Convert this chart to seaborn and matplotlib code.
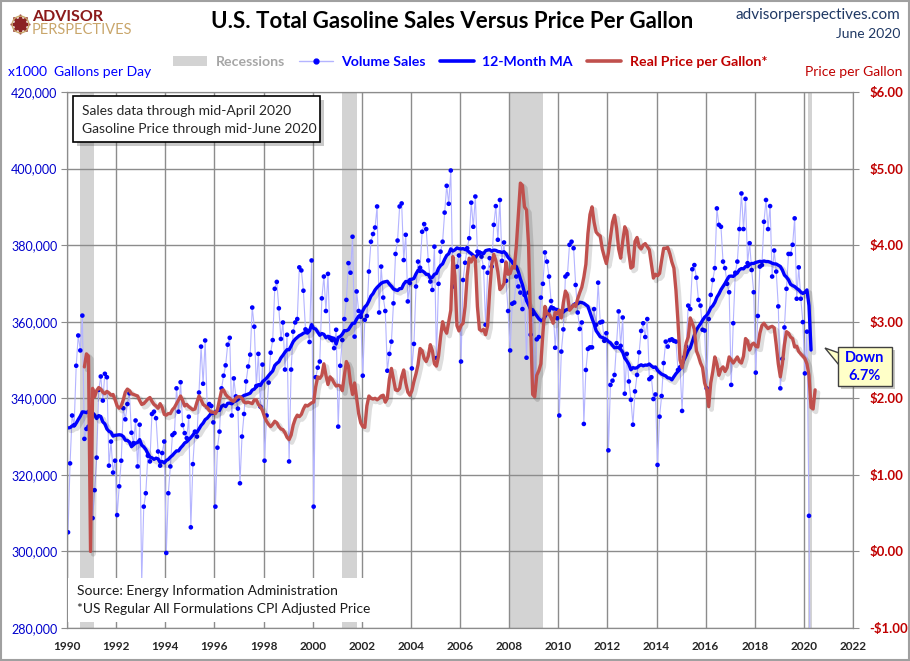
import numpy as np
import pandas as pd
import seaborn as sns
import matplotlib.pyplot as plt
import matplotlib.patheffects as pe
from matplotlib.patches import Rectangle, Polygon, Patch
from matplotlib.lines import Line2D
from matplotlib.ticker import FuncFormatter

# monthly volume sales, x1000 gallons per day, Jan 1989 .. Apr 2020
# (1989 only feeds the 12-month average, it is left of the x range)
VOLUME_START = 1989
volume_sales = [
    312, 322, 330, 333, 340, 345, 342, 348, 330, 334, 328, 330,
    305, 323, 335.5, 333, 348.5, 356.4, 352.5, 361.6, 329.4, 332, 332.6, 321.3,
    308.7, 316, 324.5, 342.2, 345.7, 339.4, 346.4, 345.5, 322.4, 328.7, 320.6, 323.7,
    309.5, 317, 323.7, 337.4, 334.5, 338.5, 341.3, 331, 328.3, 334.2, 322.2, 333.1,
    292, 311.7, 315.2, 325, 323.5, 335.9, 336.5, 334.8, 326.1, 322.4, 325.7, 328.7,
    299.6, 315.2, 322.2, 330.4, 330.9, 342.6, 336.5, 344.2, 333, 330.9, 329.6, 335.2,
    306.3, 322.8, 331.3, 330, 341.5, 353.5, 343.8, 355.1, 337.7, 338.5, 338, 333.7,
    311.7, 327.1, 331.3, 342.6, 345.9, 348.6, 354, 355.8, 335.5, 345.2, 340.5, 337.3,
    317.8, 330, 335.9, 344.4, 348.3, 351.4, 363.7, 358.7, 343.2, 351.6, 337.8, 348.8,
    323.7, 335.5, 344.1, 351.9, 355.2, 368.6, 370.4, 363.5, 355.5, 359.8, 347.5, 356.6,
    323.5, 347.5, 357.4, 359.8, 360.7, 374.2, 373.4, 368.1, 358, 357.6, 354.7, 376,
    311.7, 345.5, 348, 349.6, 366.1, 371.8, 362.8, 372.5, 355.7, 355.2, 353.1, 357.9,
    332.6, 348.5, 355.2, 360.7, 365.7, 375.3, 372.8, 382.2, 356.1, 367.9, 362.8, 361.3,
    345.9, 360.5, 361.5, 373.1, 380.9, 382.9, 384.6, 390.1, 362.4, 374.4, 366.3, 362.8,
    347.2, 351.6, 354.8, 364.8, 377.7, 381.2, 390.1, 390.9, 376.1, 382.7, 365.3, 370.1,
    347.8, 354.2, 369.2, 375.7, 374.1, 383.5, 385.5, 384.2, 376, 370.5, 368.3, 379.6,
    350.5, 369.9, 378.3, 380.9, 388.5, 395.5, 390.8, 399.5, 369.2, 374.2, 374.4, 377.3,
    349.6, 370.9, 375.4, 379.2, 381.8, 391.1, 384.8, 392.7, 378.3, 378.1, 377, 374.2,
    359.2, 372.8, 376.6, 374.4, 385.3, 390.2, 381.4, 391.8, 375.9, 380.7, 370.7, 362.8,
    352.5, 364.7, 365, 371.8, 369.2, 367.6, 363.3, 367, 350.6, 367.6, 356.6, 362,
    342.2, 355.4, 356, 366.3, 369.9, 378.1, 375.7, 371.8, 365.4, 363.5, 353.2, 360.9,
    335.5, 352.2, 358, 371.8, 372.4, 380.1, 380.9, 379.2, 369.6, 362.4, 358.1, 359.8,
    333.3, 347.4, 352.9, 353.3, 353.3, 363.3, 359.2, 370.2, 359.8, 360, 355, 357,
    326.4, 343.5, 344.6, 346.1, 354.4, 362.7, 353.7, 361.1, 341.2, 351.6, 344.4, 339.6,
    333.1, 341.8, 346.1, 352, 357.6, 359.6, 356, 360.7, 345, 345.5, 339.8, 341,
    322.6, 335.2, 340.6, 349.2, 354.8, 353.5, 355.2, 355.4, 355, 354.8, 347.4, 348.1,
    336.7, 350.7, 353.5, 364.2, 363.3, 373.7, 374.8, 371.5, 365.7, 364.2, 357.9, 357.7,
    342.6, 360.7, 367, 370.9, 374, 389.6, 385.3, 384.8, 375.7, 374, 369.9, 367.7,
    343.5, 359.6, 372.8, 375.7, 384.2, 393.5, 384.2, 392.1, 375.3, 380.5, 373.5, 367.7,
    346.7, 361.5, 374.4, 374.8, 386.1, 391.8, 384.2, 390.2, 371.8, 378.6, 373.1, 364,
    342.6, 350.3, 358.5, 368.6, 377.7, 377.7, 380.1, 387, 366, 374.2, 366, 359.9,
    346.5, 357.4, 309.3, 229.5,
]

# real (CPI adjusted) price per gallon, monthly, Sep 1990 .. Jun 2020
PRICE_START = 1990 + 8 / 12
real_price = [
    2.41, 2.58, 2.55, 0.00,
    2.13, 2.02, 2.10, 2.14, 2.12, 2.08, 2.06, 2.09, 2.07, 2.04, 2.05, 1.98,
    1.90, 1.87, 1.90, 1.98, 2.08, 2.12, 2.10, 2.06, 2.05, 2.04, 2.03, 1.97,
    1.92, 1.93, 1.96, 1.99, 2.01, 1.96, 1.92, 1.90, 1.87, 1.93, 1.88, 1.79,
    1.78, 1.80, 1.80, 1.85, 1.88, 1.93, 1.98, 2.03, 1.97, 1.90, 1.92, 1.89,
    1.87, 1.85, 1.86, 1.95, 2.03, 1.98, 1.92, 1.90, 1.88, 1.84, 1.82, 1.82,
    1.80, 1.85, 1.98, 2.10, 2.11, 2.05, 2.02, 2.00, 1.97, 1.96, 2.00, 2.02,
    2.02, 2.00, 1.95, 1.94, 1.95, 1.94, 1.93, 1.98, 1.98, 1.92, 1.89, 1.84,
    1.76, 1.70, 1.66, 1.63, 1.66, 1.70, 1.68, 1.63, 1.60, 1.59, 1.55, 1.49,
    1.46, 1.52, 1.65, 1.73, 1.78, 1.76, 1.79, 1.86, 1.91, 1.90, 1.92, 1.94,
    1.95, 2.15, 2.28, 2.26, 2.30, 2.45, 2.30, 2.18, 2.28, 2.25, 2.20, 2.16,
    2.17, 2.16, 2.10, 2.30, 2.48, 2.42, 2.20, 2.05, 2.20, 2.00, 1.80, 1.68,
    1.63, 1.62, 1.90, 2.03, 2.00, 1.99, 2.00, 1.98, 2.00, 2.03, 2.04, 1.95,
    2.00, 2.25, 2.39, 2.25, 2.11, 2.10, 2.13, 2.28, 2.37, 2.20, 2.08, 2.04,
    2.10, 2.22, 2.32, 2.44, 2.65, 2.62, 2.52, 2.48, 2.55, 2.70, 2.62, 2.45,
    2.42, 2.55, 2.80, 3.00, 2.90, 2.85, 3.00, 3.15, 3.85, 3.60, 2.95, 2.88,
    2.95, 2.98, 3.20, 3.60, 3.83, 3.78, 3.85, 3.80, 3.20, 2.90, 2.88, 2.90,
    2.83, 2.95, 3.40, 3.75, 3.88, 3.80, 3.65, 3.42, 3.45, 3.50, 3.78, 3.62,
    3.63, 3.72, 3.70, 3.98, 4.40, 4.81, 4.78, 4.50, 4.46, 4.00, 2.95, 2.05,
    2.02, 2.30, 2.36, 2.45, 2.85, 3.20, 3.10, 3.10, 3.05, 2.98, 3.12, 3.10,
    3.15, 3.05, 3.25, 3.40, 3.35, 3.15, 3.18, 3.22, 3.20, 3.30, 3.38, 3.45,
    3.58, 3.75, 4.15, 4.40, 4.50, 4.30, 4.17, 4.14, 4.12, 3.95, 3.85, 3.76,
    3.90, 4.10, 4.30, 4.39, 4.22, 3.95, 3.83, 4.05, 4.24, 4.18, 3.90, 3.70,
    3.72, 4.05, 4.10, 3.98, 3.95, 4.00, 4.02, 3.98, 3.94, 3.75, 3.57, 3.62,
    3.60, 3.63, 3.80, 3.96, 3.96, 3.97, 3.89, 3.78, 3.70, 3.41, 3.00, 2.50,
    2.40, 2.55, 2.72, 2.80, 3.05, 2.98, 2.90, 2.62, 2.55, 2.46, 2.40, 2.20,
    2.12, 1.89, 2.20, 2.35, 2.54, 2.45, 2.30, 2.38, 2.41, 2.35, 2.40, 2.54,
    2.50, 2.46, 2.50, 2.54, 2.48, 2.46, 2.55, 2.78, 2.75, 2.63, 2.70, 2.72,
    2.68, 2.67, 2.85, 2.95, 2.98, 2.94, 2.91, 2.93, 2.94, 2.92, 2.70, 2.45,
    2.28, 2.45, 2.70, 2.87, 2.85, 2.80, 2.78, 2.67, 2.68, 2.61, 2.58, 2.55,
    2.52, 2.45, 2.30, 1.88, 1.86, 2.11,
]

recessions = [(1990.53, 1991.1), (2001.2, 2001.8), (2008.0, 2009.37), (2020.16, 2020.32)]
year_ticks = list(range(1990, 2023, 2))
sales_ticks = list(range(280000, 420001, 20000))
price_ticks = list(range(-1, 7))

W, H = 910, 661


def fx(px):
    return px / W


def fy(py):
    return 1 - py / H


vol = pd.DataFrame({
    "date": VOLUME_START + (np.arange(len(volume_sales)) + 0.5) / 12,
    "sales": np.array(volume_sales) * 1000,
})
vol["ma"] = vol["sales"].rolling(12).mean()
vol = vol[vol["date"] >= 1990]

price = pd.DataFrame({
    "date": PRICE_START + (np.arange(len(real_price)) + 0.5) / 12,
    "price": real_price,
})

sns.set_style("white")
plt.rcParams["font.family"] = ["Lato", "DejaVu Sans"]

fig = plt.figure(figsize=(9.1, 6.61), dpi=100)
ax = fig.add_axes([fx(67), fy(628), fx(853) - fx(67), fy(92) - fy(628)])
ax2 = ax.twinx()

for a, b in recessions:
    ax.axvspan(a, b, color="#d3d3d3", lw=0, zorder=0.2)

# soft drop shadow like the spreadsheet original
shadow = [pe.SimpleLineShadow(offset=(2, -2), alpha=0.13, linewidth=3.5), pe.Normal()]

sns.lineplot(data=vol, x="date", y="sales", ax=ax, color="#b4b4ff", lw=0.8, zorder=2)
sns.scatterplot(data=vol, x="date", y="sales", ax=ax, color="#0000ff", s=11,
                edgecolor="none", zorder=3)
sns.lineplot(data=vol, x="date", y="ma", ax=ax, color="#0000ff", lw=2.4, zorder=4,
             path_effects=shadow)
sns.lineplot(data=price, x="date", y="price", ax=ax2, color="#c0504d", lw=2.4,
             path_effects=shadow)

ax.set_xlim(1990, 2022)
ax.set_ylim(280000, 420000)
ax2.set_ylim(-1, 6)
ax.set_xticks(year_ticks)
ax.set_yticks(sales_ticks)
ax2.set_yticks(price_ticks)
ax.set_xlabel("")
ax.set_ylabel("")
ax2.set_ylabel("")

ax.yaxis.set_major_formatter(FuncFormatter(lambda v, p: f"{v:,.0f}"))
ax2.yaxis.set_major_formatter(
    FuncFormatter(lambda v, p: f"-${abs(v):.2f}" if v < 0 else f"${v:.2f}"))

ax.set_axisbelow(True)
ax.grid(True, color="#8c8c8c", lw=1)
ax2.grid(False)

ax.tick_params(axis="x", length=4, color="#8c8c8c", labelsize=8.5, pad=5)
ax.tick_params(axis="y", length=4, color="#8c8c8c", labelsize=9, labelcolor="#0000cc", pad=3)
ax2.tick_params(axis="y", length=4, color="#8c8c8c", labelsize=9.5, labelcolor="#c00000", pad=8)
for lbl in ax.get_xticklabels():
    lbl.set_fontweight("bold")
for lbl in ax2.get_yticklabels():
    lbl.set_fontweight("bold")

for a in (ax, ax2):
    for s in a.spines.values():
        s.set_color("#8c8c8c")

# legend row
handles = [
    Patch(facecolor="#d3d3d3", edgecolor="none"),
    Line2D([], [], color="#b4b4ff", lw=1, marker="o", markersize=3.5,
           markerfacecolor="#0000ff", markeredgecolor="#0000ff"),
    Line2D([], [], color="#0000ff", lw=2.6),
    Line2D([], [], color="#c0504d", lw=2.6),
]
labels = ["Recessions", "Volume Sales", "12-Month MA", "Real Price per Gallon*"]
leg = fig.legend(handles, labels, loc="center", bbox_to_anchor=(fx(470), fy(62)), ncol=4,
                 frameon=False, handlelength=2.4, columnspacing=1.0, handletextpad=0.6,
                 prop={"weight": "bold", "size": 10.2})
for t, c in zip(leg.get_texts(), ["#a6a6a6", "#0000ff", "#0000ff", "#c00000"]):
    t.set_color(c)

# header
fig.text(fx(452), fy(22), "U.S. Total Gasoline Sales Versus Price Per Gallon",
         ha="center", va="center", fontsize=16, fontweight="bold", color="black")
fig.text(fx(900), fy(15), "advisorperspectives.com", ha="right", va="center",
         fontsize=11, color="#1f3864")
fig.text(fx(900), fy(34), "June 2020", ha="right", va="center", fontsize=10, color="#1f3864")
fig.text(fx(8), fy(72), "x1000  Gallons per Day", ha="left", va="center",
         fontsize=10, color="#0000ff")
fig.text(fx(902), fy(72), "Price per Gallon", ha="right", va="center",
         fontsize=10, color="#c00000")

# logo
fig.add_artist(Line2D([fx(20)], [fy(24)], marker=(8, 1, 0), markersize=14,
                      color="#8b2323", transform=fig.transFigure))
fig.add_artist(Line2D([fx(20)], [fy(24)], marker="o", markersize=12, markerfacecolor="none",
                      markeredgecolor="#c9a66b", markeredgewidth=1, transform=fig.transFigure))
fig.text(fx(32), fy(17), "ADVISOR", ha="left", va="center", fontsize=11.5,
         fontweight="bold", color="#8b1a1a")
fig.text(fx(32), fy(30), "PERSPECTIVES", ha="left", va="center", fontsize=10.5,
         color="#c9a66b")

# note box top left
fig.add_artist(Rectangle((fx(73), fy(142)), fx(320) - fx(73), fy(96) - fy(142),
                         transform=fig.transFigure, facecolor="white", edgecolor="black",
                         lw=1.2, zorder=5,
                         path_effects=[pe.withSimplePatchShadow(offset=(3, -3), alpha=0.3)]))
fig.text(fx(82), fy(111), "Sales data through mid-April 2020", ha="left", va="center",
         fontsize=10, zorder=6)
fig.text(fx(82), fy(129), "Gasoline Price through mid-June 2020", ha="left", va="center",
         fontsize=10, zorder=6)

# source box bottom left
fig.add_artist(Rectangle((fx(68), fy(622)), fx(365) - fx(68), fy(578) - fy(622),
                         transform=fig.transFigure, facecolor="white", edgecolor="none",
                         zorder=5))
fig.text(fx(77), fy(591), "Source: Energy Information Administration", ha="left",
         va="center", fontsize=10, color="#1a1a1a", zorder=6)
fig.text(fx(77), fy(609), "*US Regular All Formulations CPI Adjusted Price", ha="left",
         va="center", fontsize=10, color="#1a1a1a", zorder=6)

# callout
fig.add_artist(Polygon([(fx(825), fy(348)), (fx(839), fy(353)), (fx(839), fy(365))],
                       closed=True, transform=fig.transFigure, facecolor="#ffffc8",
                       edgecolor="#404040", lw=1, zorder=7))
fig.add_artist(Rectangle((fx(838), fy(386)), fx(892) - fx(838), fy(347) - fy(386),
                         transform=fig.transFigure, facecolor="#ffffc8", edgecolor="#404040",
                         lw=1, zorder=7,
                         path_effects=[pe.withSimplePatchShadow(offset=(2, -2), alpha=0.3)]))
fig.text(fx(865), fy(358), "Down", ha="center", va="center", fontsize=10.5,
         fontweight="bold", color="#0000ff", zorder=8)
fig.text(fx(865), fy(376), "6.7%", ha="center", va="center", fontsize=10.5,
         fontweight="bold", color="#0000ff", zorder=8)

# outer frame
fig.add_artist(Rectangle((0.001, 0.001), 0.998, 0.998, transform=fig.transFigure,
                         fill=False, edgecolor="#a0a0a0", lw=1.5, zorder=10))

fig.savefig("out.png", dpi=100)
